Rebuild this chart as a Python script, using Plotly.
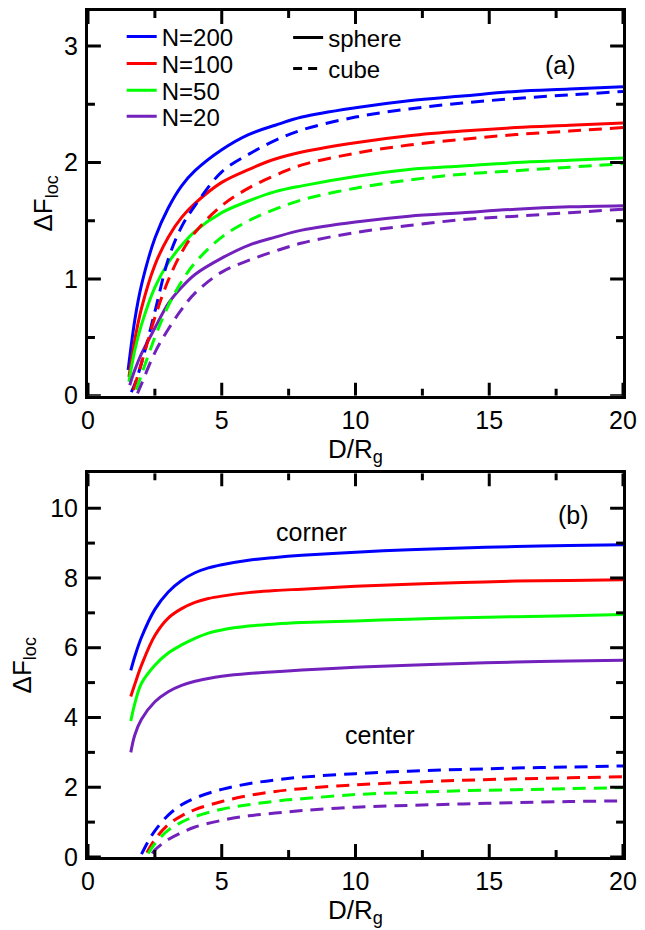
import plotly.graph_objects as go

# ---------------- data ----------------
names = ["N=200", "N=100", "N=50", "N=20"]
colors = ["#0000ff", "#ff0000", "#00ff00", "#7221bc"]

grid_a = [1.75, 2, 2.5, 3, 3.5, 4, 5, 6, 7, 8, 10, 12, 14, 16, 18, 20]
grid_c = [1.75, 2, 2.5, 3, 3.5, 4, 4.5, 5, 6, 7, 8, 10, 12, 14, 16, 18, 20]
grid_b = [2.5, 3, 3.5, 4, 5, 6, 7, 8, 10, 12, 14, 16, 18, 20]

# panel (a) sphere (solid)
sph_200_x = [1.5] + grid_a
sph_200_y = [0.22, 0.65, 0.95, 1.35, 1.61, 1.80, 1.93, 2.11, 2.24, 2.32, 2.39, 2.47, 2.53, 2.57, 2.61, 2.63, 2.65]
sph_100_x = [1.53] + grid_a
sph_100_y = [0.16, 0.48, 0.75, 1.12, 1.36, 1.53, 1.65, 1.83, 1.94, 2.03, 2.09, 2.17, 2.23, 2.27, 2.30, 2.32, 2.34]
sph_50_x = [1.53] + grid_a
sph_50_y = [0.12, 0.39, 0.61, 0.93, 1.14, 1.29, 1.41, 1.57, 1.67, 1.75, 1.80, 1.88, 1.94, 1.97, 2.00, 2.02, 2.04]
sph_20_x = [1.56] + grid_a
sph_20_y = [0.09, 0.22, 0.36, 0.58, 0.79, 0.93, 1.04, 1.18, 1.29, 1.36, 1.42, 1.49, 1.54, 1.57, 1.60, 1.62, 1.63]

# panel (a) cube (dashed)
cub_200_x = [1.62] + grid_a
cub_200_y = [0.03, 0.10, 0.28, 0.72, 1.17, 1.45, 1.63, 1.92, 2.07, 2.19, 2.28, 2.39, 2.46, 2.51, 2.55, 2.58, 2.61]
cub_100_x = [1.7] + grid_a[1:]
cub_100_y = [0.05, 0.28, 0.67, 0.99, 1.23, 1.40, 1.63, 1.78, 1.89, 1.98, 2.08, 2.15, 2.20, 2.24, 2.27, 2.30]
cub_50_x = [1.8] + grid_a[1:]
cub_50_y = [0.05, 0.18, 0.50, 0.77, 0.98, 1.14, 1.36, 1.50, 1.60, 1.68, 1.78, 1.85, 1.90, 1.93, 1.96, 1.99]
cub_20_x = [1.85] + grid_a[1:]
cub_20_y = [0.02, 0.10, 0.37, 0.57, 0.74, 0.88, 1.06, 1.16, 1.24, 1.31, 1.40, 1.46, 1.51, 1.54, 1.57, 1.60]

# panel (b) corner (solid)
cor_x = [1.6] + grid_c
cor_200_y = [5.35, 5.75, 6.30, 7.10, 7.60, 7.93, 8.15, 8.29, 8.38, 8.51, 8.59, 8.65, 8.74, 8.81, 8.86, 8.90, 8.93, 8.95]
cor_100_y = [4.60, 4.95, 5.50, 6.35, 6.85, 7.12, 7.30, 7.41, 7.48, 7.58, 7.64, 7.68, 7.76, 7.82, 7.87, 7.91, 7.93, 7.95]
cor_50_y = [3.90, 4.40, 4.98, 5.50, 5.85, 6.08, 6.27, 6.42, 6.51, 6.62, 6.68, 6.72, 6.77, 6.82, 6.86, 6.89, 6.92, 6.95]
cor_20_y = [3.00, 3.50, 3.95, 4.45, 4.74, 4.92, 5.04, 5.12, 5.18, 5.26, 5.31, 5.36, 5.44, 5.50, 5.55, 5.59, 5.62, 5.64]

# panel (b) center (dashed)
cen_200_x = [2.0, 2.25] + grid_b
cen_200_y = [0.08, 0.45, 0.75, 1.20, 1.50, 1.69, 1.94, 2.10, 2.21, 2.29, 2.39, 2.46, 2.51, 2.55, 2.58, 2.61]
cen_100_x = [2.2] + grid_b
cen_100_y = [0.12, 0.50, 0.93, 1.18, 1.36, 1.59, 1.76, 1.88, 1.96, 2.07, 2.14, 2.20, 2.24, 2.27, 2.30]
cen_50_x = [2.25] + grid_b
cen_50_y = [0.10, 0.38, 0.77, 1.00, 1.16, 1.37, 1.50, 1.60, 1.67, 1.79, 1.85, 1.90, 1.93, 1.96, 1.99]
cen_20_x = [2.4] + grid_b
cen_20_y = [0.10, 0.20, 0.50, 0.70, 0.86, 1.05, 1.18, 1.26, 1.33, 1.43, 1.48, 1.52, 1.56, 1.59, 1.61]

# axes: ranges and tick values
x_range = [0, 20]
ya_range = [0, 3.3]
yb_range = [0, 11]
x_major = [0, 5, 10, 15, 20]
x_minor = [2.5, 7.5, 12.5, 17.5]
ya_major = [0, 1, 2, 3]
ya_minor = [0.5, 1.5, 2.5]
yb_major = [0, 2, 4, 6, 8, 10]
yb_minor = [1, 3, 5, 7, 9]

# ---------------- figure ----------------
FONT = "Liberation Sans, Arial, Helvetica, sans-serif"
LW = 3
DASH = "13px,8px"
SM = 1.0
MAJ, MIN, TW = 13, 7, 3

W, H = 645, 930
ML, MR, MT, MB = 88, 17, 8, 73
top_dom = [0.5453, 1.0]
bot_dom = [0.0, 0.4535]
plot_w = W - ML - MR
paper_h = H - MT - MB

fig = go.Figure()

sph = [(sph_200_x, sph_200_y), (sph_100_x, sph_100_y), (sph_50_x, sph_50_y), (sph_20_x, sph_20_y)]
cub = [(cub_200_x, cub_200_y), (cub_100_x, cub_100_y), (cub_50_x, cub_50_y), (cub_20_x, cub_20_y)]
cor = [(cor_x, cor_200_y), (cor_x, cor_100_y), (cor_x, cor_50_y), (cor_x, cor_20_y)]
cen = [(cen_200_x, cen_200_y), (cen_100_x, cen_100_y), (cen_50_x, cen_50_y), (cen_20_x, cen_20_y)]

legend_ids = ["legend", "legend2", "legend3", "legend4"]
for i in range(4):
    fig.add_trace(go.Scatter(x=sph[i][0], y=sph[i][1], mode="lines", name=names[i],
                             line=dict(color=colors[i], width=LW, shape="spline", smoothing=SM),
                             xaxis="x", yaxis="y", legend=legend_ids[i], showlegend=True))
for i in range(4):
    fig.add_trace(go.Scatter(x=cub[i][0], y=cub[i][1], mode="lines", name=names[i],
                             line=dict(color=colors[i], width=LW, dash=DASH, shape="spline", smoothing=SM),
                             xaxis="x", yaxis="y", showlegend=False))
for i in range(4):
    fig.add_trace(go.Scatter(x=cor[i][0], y=cor[i][1], mode="lines", name=names[i] + " corner",
                             line=dict(color=colors[i], width=LW, shape="spline", smoothing=SM),
                             xaxis="x2", yaxis="y2", showlegend=False))
for i in range(4):
    fig.add_trace(go.Scatter(x=cen[i][0], y=cen[i][1], mode="lines", name=names[i] + " center",
                             line=dict(color=colors[i], width=LW, dash=DASH, shape="spline", smoothing=SM),
                             xaxis="x2", yaxis="y2", showlegend=False))

# style legend entries (no data)
fig.add_trace(go.Scatter(x=[None], y=[None], mode="lines", name="sphere",
                         line=dict(color="black", width=LW), xaxis="x", yaxis="y",
                         legend="legend5", showlegend=True))
fig.add_trace(go.Scatter(x=[None], y=[None], mode="lines", name="cube",
                         line=dict(color="black", width=LW, dash="9px,6px"), xaxis="x", yaxis="y",
                         legend="legend6", showlegend=True))


# inward tick marks on all four sides (drawn through the axes' own scales)
def tick_trace(xa, ya, xr, yr, dom, xmaj, xmin, ymaj, ymin):
    plot_h = (dom[1] - dom[0]) * paper_h
    ux = (xr[1] - xr[0]) / plot_w      # data units per pixel
    uy = (yr[1] - yr[0]) / plot_h
    xs, ys = [], []
    for vals, ln in [(xmaj, MAJ), (xmin, MIN)]:
        for v in vals:
            xs += [v, v, None, v, v, None]
            ys += [yr[0], yr[0] + ln * uy, None, yr[1], yr[1] - ln * uy, None]
    for vals, ln in [(ymaj, MAJ), (ymin, MIN)]:
        for v in vals:
            xs += [xr[0], xr[0] + ln * ux, None, xr[1], xr[1] - ln * ux, None]
            ys += [v, v, None, v, v, None]
    return go.Scatter(x=xs, y=ys, mode="lines", xaxis=xa, yaxis=ya,
                      line=dict(color="black", width=TW), showlegend=False,
                      hoverinfo="skip", cliponaxis=False)


fig.add_trace(tick_trace("x", "y", x_range, ya_range, top_dom, x_major, x_minor, ya_major, ya_minor))
fig.add_trace(tick_trace("x2", "y2", x_range, yb_range, bot_dom, x_major, x_minor, yb_major, yb_minor))

TF = dict(family=FONT, size=25, color="black")
TTF = dict(family=FONT, size=26, color="black")
YT = "\u0394F<sub>loc</sub>"
XT = "D/R<sub>g</sub>"


def main_axis(rng, dtick, anchor, title, standoff, lab_off, domain=None):
    d = dict(range=rng, showline=True, linewidth=3, linecolor="black", mirror=True,
             ticks="", dtick=dtick, tick0=0, showgrid=False, zeroline=False,
             tickfont=TF, ticklabelstandoff=lab_off, anchor=anchor,
             title=dict(text=title, font=TTF, standoff=standoff))
    if domain is not None:
        d["domain"] = domain
    return d


leg_common = dict(font=dict(family=FONT, size=24, color="black"), bgcolor="rgba(0,0,0,0)",
                  borderwidth=0, xanchor="left", yanchor="middle", itemwidth=30)

row_y = [34, 61, 88, 114]
def py(pix):
    return (H - MB - pix) / paper_h

lx1 = (122 - ML) / plot_w
lx2 = (290 - ML) / plot_w

layouts = {}
for i, lid in enumerate(legend_ids):
    layouts[lid] = dict(leg_common, x=lx1, y=py(row_y[i]))
layouts["legend5"] = dict(leg_common, x=lx2, y=py(35))
layouts["legend6"] = dict(leg_common, x=lx2, y=py(66))

fig.update_layout(
    width=W, height=H,
    margin=dict(l=ML, r=MR, t=MT, b=MB),
    paper_bgcolor="white", plot_bgcolor="white",
    font=dict(family=FONT, size=24, color="black"),
    xaxis=main_axis(x_range, 5, "y", XT, 2, 0),
    yaxis=main_axis(ya_range, 1, "x", YT, 4, 2, domain=top_dom),
    xaxis2=main_axis(x_range, 5, "y2", XT, 2, 0),
    yaxis2=main_axis(yb_range, 2, "x2", YT, 12, 2, domain=bot_dom),
    **layouts,
    annotations=[
        dict(text="(a)", x=17.67, y=2.84, xref="x", yref="y", showarrow=False, font=TF),
        dict(text="(b)", x=18.14, y=9.8, xref="x2", yref="y2", showarrow=False, font=TF),
        dict(text="corner", x=8.37, y=9.32, xref="x2", yref="y2", showarrow=False, font=TF),
        dict(text="center", x=10.89, y=3.5, xref="x2", yref="y2", showarrow=False, font=TF),
    ],
)

fig.write_html("out.html")
